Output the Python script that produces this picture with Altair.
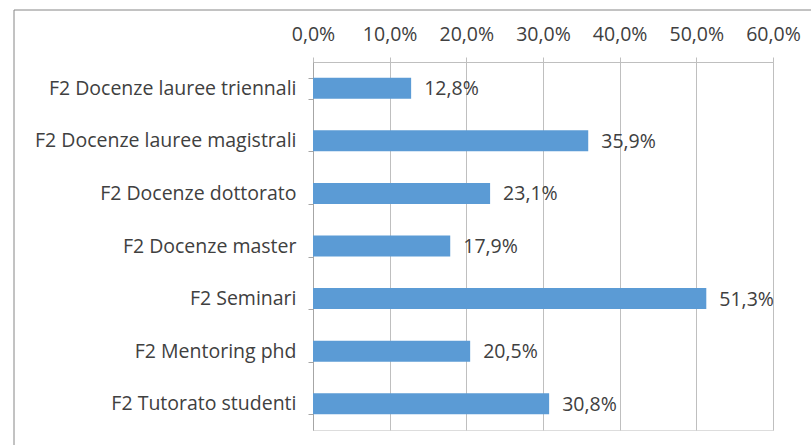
import altair as alt
import pandas as pd

categories = [
    "F2 Docenze lauree triennali",
    "F2 Docenze lauree magistrali",
    "F2 Docenze dottorato",
    "F2 Docenze master",
    "F2 Seminari",
    "F2 Mentoring phd",
    "F2 Tutorato studenti",
]
values = [0.128, 0.359, 0.231, 0.179, 0.513, 0.205, 0.308]

df = pd.DataFrame({"cat": categories, "val": values})

FONT = "Open Sans"
FS = 19.5
TXT = "#404040"
GRID = "#BFBFBF"

y_enc = alt.Y(
    "cat:N",
    sort=categories,
    title=None,
    scale=alt.Scale(paddingInner=0.6, paddingOuter=0.3),
    axis=alt.Axis(
        tickBand="extent",
        tickSize=5,
        tickColor="#A6A6A6",
        domainColor="#A6A6A6",
        labelPadding=12,
        labelFont=FONT,
        labelFontSize=FS,
        labelColor=TXT,
        labelLimit=0,
        grid=False,
    ),
)

x_enc = alt.X(
    "val:Q",
    title=None,
    scale=alt.Scale(domain=[0, 0.6], nice=False),
    axis=alt.Axis(
        orient="top",
        values=[0, 0.1, 0.2, 0.3, 0.4, 0.5, 0.6],
        labelExpr="replace(format(datum.value, '.1%'), '.', ',')",
        tickSize=5,
        tickColor=GRID,
        domainColor=GRID,
        gridColor=GRID,
        grid=True,
        labelPadding=13,
        labelFont=FONT,
        labelFontSize=FS,
        labelColor=TXT,
        labelOverlap=False,
        labelFlush=False,
    ),
)

bars = alt.Chart(df).mark_bar(color="#5B9BD5").encode(y=y_enc, x=x_enc)

labels = (
    alt.Chart(df)
    .transform_calculate(lbl="replace(format(datum.val, '.1%'), '.', ',')")
    .mark_text(align="left", baseline="middle", dx=13, dy=1, font=FONT, fontSize=FS, color=TXT)
    .encode(y=alt.Y("cat:N", sort=categories), x="val:Q", text="lbl:N")
)

frame = (
    alt.Chart(alt.Data(values=[{}]))
    .mark_rect(fill=None, stroke="#868686", strokeWidth=1)
    .encode(x=alt.value(-299), x2=alt.value(600), y=alt.value(-52), y2=alt.value(500))
)

chart = (
    alt.layer(bars, labels, frame)
    .properties(
        width=460,
        height=368,
        padding={"left": 313, "top": 62, "right": 38, "bottom": 15},
        autosize=alt.AutoSizeParams(type="none"),
    )
    .configure_view(stroke=None)
    .configure(background="white")
)

chart.save("out.html", embed_options={"renderer": "svg", "actions": False})
